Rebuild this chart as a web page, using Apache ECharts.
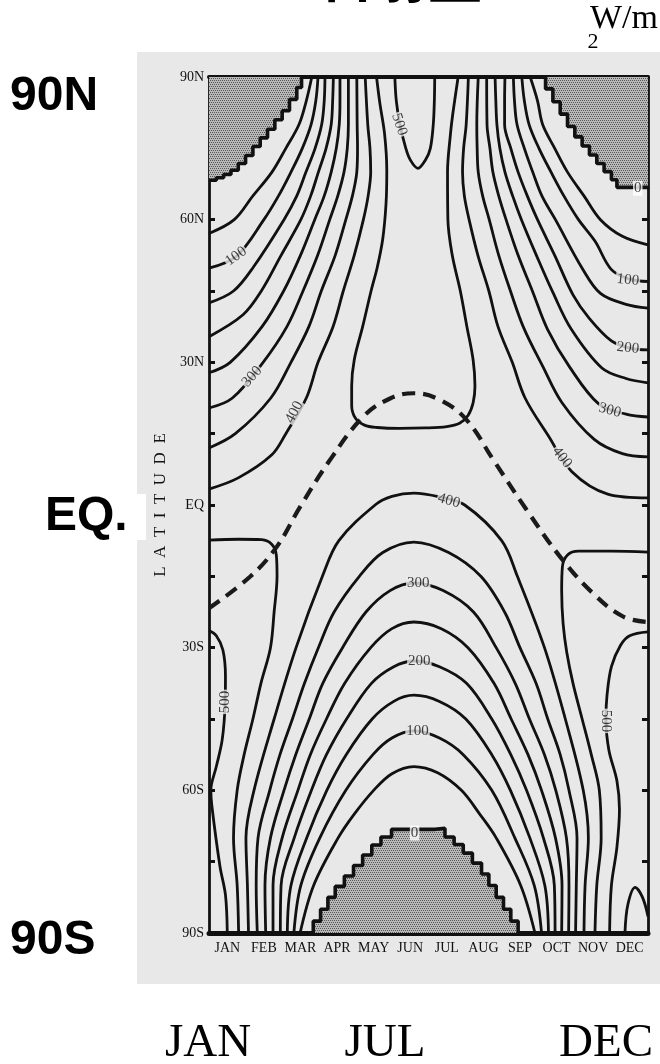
<!DOCTYPE html>
<html><head><meta charset="utf-8">
<script src="https://cdn.jsdelivr.net/npm/echarts/dist/echarts.min.js"></script>
<style>html,body{margin:0;padding:0;background:#fff;}#c{width:660px;height:1064px;}</style>
</head><body><div id="c"></div>
<script>
// ---- categories / tick labels ----
const MONTHS = ['JAN','FEB','MAR','APR','MAY','JUN','JUL','AUG','SEP','OCT','NOV','DEC'];
const LAT_TICKS = [-90,-60,-30,0,30,60,90];
const LAT_LABELS = ['90S','60S','30S','EQ','30N','60N','90N'];
const SIDE_LABELS = ['90N','EQ.','90S'];
const SEASON_LABELS = ['JAN','JUL','DEC'];

// ---- contour lines, [month position (0..12), latitude] ----
const n050a = [[0,57.1],[0.69,60],[1.2,65],[1.72,70],[2.1,75],[2.46,80],[2.66,85],[2.81,90]];
const n050b = [[8.78,90],[8.98,85],[9.12,80],[9.45,75],[9.8,70],[10.25,65],[10.7,60],[11.3,56.5],[12,54.7]];
const n100a = [[0,49.8],[0.75,52.3],[1.5,60],[1.9,65],[2.24,70],[2.55,75],[2.79,80],[2.92,85],[2.98,90]];
const n100b = [[8.55,90],[8.62,85],[8.75,80],[9.02,75],[9.35,70],[9.7,65],[10.1,60],[10.55,55.5],[11.0,49.5],[11.5,47.5],[12,47.0]];
const n150a = [[0,42.5],[0.67,45],[1.21,50],[2.05,60],[2.4,65],[2.65,70],[2.9,75],[3.08,80],[3.15,85],[3.17,90]];
const n150b = [[8.32,90],[8.35,85],[8.42,80],[8.62,75],[8.85,70],[9.1,65],[9.47,60],[10.2,49.8],[10.7,44.5],[11.4,42.2],[12,41.4]];
const n200a = [[0,35.4],[0.93,40],[1.43,45],[1.97,52.5],[2.51,60],[2.78,65],[2.99,70],[3.2,75],[3.34,80],[3.38,85],[3.4,90]];
const n200b = [[8.09,90],[8.08,85],[8.08,80],[8.25,75],[8.45,70],[8.7,65],[8.98,60],[9.45,52.5],[9.95,44.2],[10.4,39.2],[11.0,34.5],[11.5,33.0],[12,32.6]];
const n250a = [[0,27.8],[0.58,30],[1.45,37.5],[2.04,45],[2.5,52.5],[2.89,60],[3.15,65],[3.34,70],[3.48,75],[3.56,80],[3.58,85],[3.58,90]];
const n250b = [[7.82,90],[7.84,85],[7.87,80],[7.95,75],[8.09,70],[8.3,65],[8.54,60],[8.95,52.5],[9.4,44.7],[9.9,37],[10.74,28.8],[11.4,26.6],[12,25.7]];
const n300a = [[0,20.4],[0.64,22.5],[1.48,30],[2.13,37.5],[2.57,45],[2.97,52.5],[3.3,60],[3.52,65],[3.69,70],[3.78,75],[3.81,80],[3.81,90]];
const n300b = [[7.59,90],[7.6,80],[7.68,75],[7.76,70],[7.92,65],[8.12,60],[8.45,52.5],[8.85,44.8],[9.25,37],[9.85,29.1],[10.66,21.2],[11.4,19.1],[12,18.5]];
const n350a = [[0,12.0],[0.72,15],[1.69,22.5],[2.24,30],[2.73,37.5],[3.07,45],[3.45,52.5],[3.74,60],[3.92,65],[4.04,70],[4.06,75],[4.05,80],[4.04,90]];
const n350b = [[7.36,90],[7.32,80],[7.33,75],[7.36,70],[7.48,65],[7.66,60],[7.92,52.5],[8.24,45],[8.6,37.3],[9.12,29.2],[9.65,21.5],[10.53,13.8],[11.3,10.8],[12,10.1]];
const n400a = [[0,3.35],[0.8,5.7],[1.71,10.5],[2.1,15],[2.66,22.5],[2.98,30],[3.39,37.5],[3.67,45],[3.97,52.5],[4.22,60],[4.35,65],[4.42,70],[4.4,75],[4.34,80],[4.27,90]];
const n400b = [[7.09,90],[7.03,80],[6.96,75],[6.93,70],[6.98,65],[7.11,60],[7.35,52.5],[7.65,45],[7.9,37.5],[8.29,30],[8.64,22.5],[9.28,14.5],[9.92,7.0],[10.9,2.3],[12,1.5]];
const n450 = [[4.58,90],[4.67,84.5],[4.8,78],[4.86,70.4],[4.84,63.5],[4.75,56],[4.6,50],[4.43,45],[4.2,37.5],[3.97,30.5],[3.9,25],[3.9,21],[4.0,18.3],[4.25,16.8],[4.6,16.3],[5.2,16.1],[5.9,16.2],[6.5,16.5],[6.85,17.2],[7.08,18.8],[7.22,21.5],[7.27,25],[7.22,30.5],[7.05,37.5],[6.87,45],[6.65,52.5],[6.53,60],[6.52,70],[6.6,78],[6.66,82],[6.81,90]];
const n500 = [[5.08,90],[5.12,85],[5.22,80],[5.38,75],[5.5,72.6],[5.71,70.8],[5.92,72.6],[6.05,75],[6.13,80],[6.16,85],[6.17,90]];
const s050 = [[2.49,-90],[2.86,-80],[3.53,-70],[3.97,-65],[4.5,-60],[5.0,-56.5],[5.6,-55.0],[6.25,-56.3],[6.9,-60],[7.4,-65],[7.85,-70],[8.52,-80],[8.91,-90]];
const s100 = [[2.32,-90],[2.51,-80],[3.03,-70],[3.74,-60],[4.48,-52.5],[5.0,-49],[5.6,-47.5],[6.3,-49],[6.95,-52.5],[7.73,-60],[8.36,-70],[8.89,-80],[9.09,-90]];
const s150 = [[2.14,-90],[2.24,-80],[2.67,-70],[3.22,-60],[3.75,-52.5],[4.46,-45],[5.05,-41.3],[5.6,-40],[6.3,-41.3],[7.02,-45],[7.73,-52.5],[8.24,-60],[8.77,-70],[9.18,-80],[9.28,-90]];
const s200 = [[1.95,-90],[1.97,-80],[2.33,-70],[2.8,-60],[3.21,-52.5],[3.76,-45],[4.44,-37.5],[5.05,-34],[5.6,-32.8],[6.3,-34],[7.04,-37.5],[7.73,-45],[8.25,-52.5],[8.68,-60],[9.14,-70],[9.44,-80],[9.46,-90]];
const s250 = [[1.75,-90],[1.75,-80],[2.0,-70],[2.43,-60],[2.77,-52.5],[3.21,-45],[3.71,-37.5],[4.42,-30],[5.0,-26],[5.6,-24.6],[6.35,-26],[7.08,-30],[7.79,-37.5],[8.26,-45],[8.72,-52.5],[9.09,-60],[9.47,-70],[9.65,-80],[9.64,-90]];
const s300 = [[1.55,-90],[1.53,-80],[1.68,-70],[2.05,-60],[2.37,-52.5],[2.74,-45],[3.11,-37.5],[3.65,-30],[4.29,-22.5],[4.95,-18],[5.6,-16.4],[6.4,-18],[7.23,-22.5],[7.85,-30],[8.37,-37.5],[8.76,-45],[9.17,-52.5],[9.48,-60],[9.77,-70],[9.84,-80],[9.83,-90]];
const s350 = [[1.32,-90],[1.29,-80],[1.34,-70],[1.66,-60],[1.94,-52.5],[2.28,-45],[2.61,-37.5],[2.99,-30],[3.42,-22.5],[4.11,-15],[4.75,-10],[5.6,-7.8],[6.55,-10],[7.43,-15],[8.08,-22.5],[8.5,-30],[8.94,-37.5],[9.26,-45],[9.6,-52.5],[9.84,-60],[10.06,-70],[10.04,-80],[10.02,-90]];
const s400 = [[1.08,-90],[1.05,-80],[1.01,-70],[1.23,-60],[1.78,-45],[2.38,-30],[3.1,-15],[3.55,-7.5],[4.54,0],[5.0,1.8],[5.6,2.5],[6.3,1.7],[6.99,0],[8.0,-7.5],[8.43,-15],[9.17,-30],[9.74,-45],[10.23,-60],[10.37,-70],[10.28,-80],[10.25,-90]];
const s450a = [[0,-7.4],[0.8,-7.2],[1.44,-7.3],[1.72,-8.3],[1.84,-10.5],[1.86,-15],[1.78,-22.5],[1.68,-30],[1.42,-37.5],[1.2,-45],[0.96,-52.5],[0.77,-60],[0.67,-70],[0.77,-80],[0.81,-90]];
const s450b = [[12,-9.9],[11,-9.7],[10.1,-9.7],[9.8,-10.5],[9.66,-13],[9.64,-18],[9.68,-25],[9.78,-31],[9.95,-37.5],[10.2,-45],[10.45,-52.5],[10.67,-60],[10.72,-70],[10.6,-80],[10.55,-90]];
const s500a = [[0,-26.4],[0.2,-27.5],[0.38,-30.5],[0.45,-36],[0.44,-42],[0.36,-49.4],[0.2,-55],[0.05,-60],[0.08,-63.4],[0.3,-76],[0.45,-82],[0.5,-90]];
const s500b = [[12,-26.7],[11.5,-27.5],[11.25,-29.5],[11.0,-34],[10.88,-40],[10.85,-45],[10.93,-51.5],[11.15,-58],[11.22,-64],[11.15,-72],[11.0,-80],[10.95,-90]];
const s550 = [[11.37,-90],[11.45,-84],[11.65,-80.4],[11.85,-82.5],[12,-86.5]];

// zero-insolation (polar night) boundaries
const polarNW = [[0,68.3],[0.2,68.8],[0.4,69.5],[0.6,70.4],[0.8,71.8],[1.0,73.5],[1.2,75.4],[1.4,77.2],[1.6,79],[1.8,81],[2.0,82.9],[2.2,85.3],[2.4,87.8],[2.53,90]];
const polarNE = [[9.0,90],[9.2,87.5],[9.4,84.8],[9.6,82.2],[9.8,79.6],[10.0,77.4],[10.2,75.5],[10.4,73.6],[10.6,71.8],[10.8,70.1],[11.0,68.4],[11.15,66.8],[12,66.5]];
const polarS = [[2.67,-90],[2.85,-87.5],[3.05,-85],[3.25,-82.5],[3.45,-80.2],[3.7,-78],[3.95,-75.8],[4.2,-73.6],[4.45,-71.5],[4.7,-69.8],[4.99,-68.2],[6.18,-68.0],[6.45,-69.8],[6.7,-71.4],[6.95,-73.2],[7.2,-75.3],[7.45,-77.6],[7.65,-80],[7.85,-82.5],[8.05,-85],[8.25,-87.5],[8.45,-90]];

// subsolar latitude (dashed)
const subsolar = [[0,-21.7],[1.12,-15.1],[1.85,-8.8],[2.49,-0.4],[3.31,9.5],[4.22,18.6],[4.95,22.4],[5.59,23.5],[6.31,22.1],[7.04,17.9],[7.77,9.5],[8.68,-1.0],[9.6,-10.9],[10.5,-18.6],[11.33,-23.5],[12,-24.6]];

// contour value labels: [month position, latitude, text]
const LABELS = [[0.74,52.3,'100'],[1.18,27.0,'300'],[2.33,19.5,'400'],[5.2,80,'500'],
  [11.72,66.6,'0'],[11.45,47.3,'100'],[11.45,33.0,'200'],[10.96,19.9,'300'],[9.65,10.0,'400'],
  [6.56,0.9,'400'],[5.72,-16.5,'300'],[5.75,-32.9,'200'],[5.7,-47.6,'100'],[5.62,-69.0,'0'],
  [0.44,-41.4,'500'],[10.86,-45.4,'500']];
const LABEL_ROT = [36,48,62,-72,0,-6,-6,-15,-52,-16,0,0,0,0,90,-90];
const LABEL_WHITE = ['0'];

const CONTOURS = [n050a,n050b,n100a,n100b,n150a,n150b,n200a,n200b,n250a,n250b,n300a,n300b,
  n350a,n350b,n400a,n400b,n450,n500,s050,s100,s150,s200,s250,s300,s350,s400,s450a,s450b,s500a,s500b,s550];

// ---- styles ----
const BG = '#e8e8e8';
const INK = '#111111';
const pc = document.createElement('canvas'); pc.width = 4; pc.height = 4;
const g = pc.getContext('2d');
g.fillStyle = '#b8b8b8'; g.fillRect(0,0,4,4);
g.fillStyle = '#585858'; g.fillRect(0,0,1,1); g.fillRect(2,0,1,1); g.fillRect(1,2,1,1); g.fillRect(3,2,1,1);
const stipple = {image: pc, repeat: 'repeat'};

const series = [];
[[polarNW,'end'],[polarNE,'end'],[polarS,'start']].forEach(([d,o]) => {
  series.push({type:'line', data:d, step:'end', symbol:'none', silent:true, z:3,
    lineStyle:{color:INK, width:3.6}, areaStyle:{color:stipple, origin:o, opacity:1}});
});
CONTOURS.forEach(d => series.push({type:'line', data:d, symbol:'none', smooth:0.35, silent:true, z:4,
  lineStyle:{color:INK, width:2.8}}));
series.push({type:'line', data:subsolar, symbol:'none', smooth:0.4, silent:true, z:5,
  lineStyle:{color:'#1a1a1a', width:4.2, type:[13,8]}});
series.push({type:'scatter', symbolSize:1, silent:true, z:8, itemStyle:{color:'rgba(0,0,0,0)'},
  data: LABELS.map((l,i) => ({value:[l[0],l[1]], label:{formatter:l[2], rotate:LABEL_ROT[i],
    backgroundColor: LABEL_WHITE.includes(l[2]) ? '#ffffff' : BG}})),
  label:{show:true, position:'inside', color:INK, fontFamily:'Liberation Serif', fontSize:15, padding:[0,1]}});

const latName = v => { const i = LAT_TICKS.indexOf(v); return i < 0 ? '' : LAT_LABELS[i]; };
const txt = (x,y,text,font,align) => ({type:'text', x:x, y:y, z:50,
  style:{text:text, font:font, fill:'#000', textAlign:align, align:align, textVerticalAlign:'middle', verticalAlign:'middle'}});

const chart = echarts.init(document.getElementById('c'), null, {renderer:'canvas'});
chart.setOption({
  animation:false,
  backgroundColor:'#ffffff',
  grid:{left:209, right:12, top:77, bottom:131},
  xAxis:[
    {type:'value', min:0, max:12, show:false},
    {type:'category', data:MONTHS, position:'bottom', boundaryGap:true,
     axisLine:{onZero:false, lineStyle:{color:INK, width:5}},
     axisTick:{inside:true, length:8, interval:0, lineStyle:{color:INK, width:2.5}},
     axisLabel:{interval:0, margin:8, color:INK, fontFamily:'Liberation Serif', fontSize:14}},
    {type:'category', data:MONTHS, position:'top', boundaryGap:true,
     axisLine:{onZero:false, lineStyle:{color:INK, width:4}},
     axisTick:{inside:true, length:8, interval:0, lineStyle:{color:INK, width:2.5}},
     axisLabel:{show:false}}
  ],
  yAxis:[
    {type:'value', min:-90, max:90, interval:15, position:'left', splitLine:{show:false},
     axisLine:{show:true, onZero:false, lineStyle:{color:INK, width:2.8}},
     axisTick:{inside:true, length:6, lineStyle:{color:INK, width:3}},
     axisLabel:{formatter:latName, margin:5, color:INK, fontFamily:'Liberation Serif', fontSize:14},
     name:'L  A  T  I  T  U  D  E', nameLocation:'middle', nameGap:38, nameRotate:90,
     nameTextStyle:{color:INK, fontFamily:'Liberation Serif', fontSize:17}},
    {type:'value', min:-90, max:90, interval:15, position:'right', splitLine:{show:false},
     axisLine:{show:true, onZero:false, lineStyle:{color:INK, width:2.8}},
     axisTick:{inside:true, length:6, lineStyle:{color:INK, width:3}},
     axisLabel:{show:false}}
  ],
  graphic:[
    {type:'rect', z:-100, shape:{x:137, y:52, width:523, height:932}, style:{fill:BG}},
    {type:'rect', z:-90, shape:{x:0, y:494, width:146, height:46}, style:{fill:'#fff'}},
    txt(401, -23, '日射量', 'bold 54px "Noto Sans CJK JP"', 'center'),
    txt(10, 97, SIDE_LABELS[0], 'bold 48px "Liberation Sans"', 'left'),
    txt(45, 517, SIDE_LABELS[1], 'bold 48px "Liberation Sans"', 'left'),
    txt(10, 941, SIDE_LABELS[2], 'bold 48px "Liberation Sans"', 'left'),
    txt(208, 1044, SEASON_LABELS[0], '47px "Liberation Serif"', 'center'),
    txt(385, 1044, SEASON_LABELS[1], '47px "Liberation Serif"', 'center'),
    txt(606, 1044, SEASON_LABELS[2], '47px "Liberation Serif"', 'center'),
    txt(590, 19, 'W/m', '34px "Liberation Serif"', 'left'),
    txt(593, 42, '2', '22px "Liberation Serif"', 'center')
  ],
  series: series
});
</script>
</body></html>
